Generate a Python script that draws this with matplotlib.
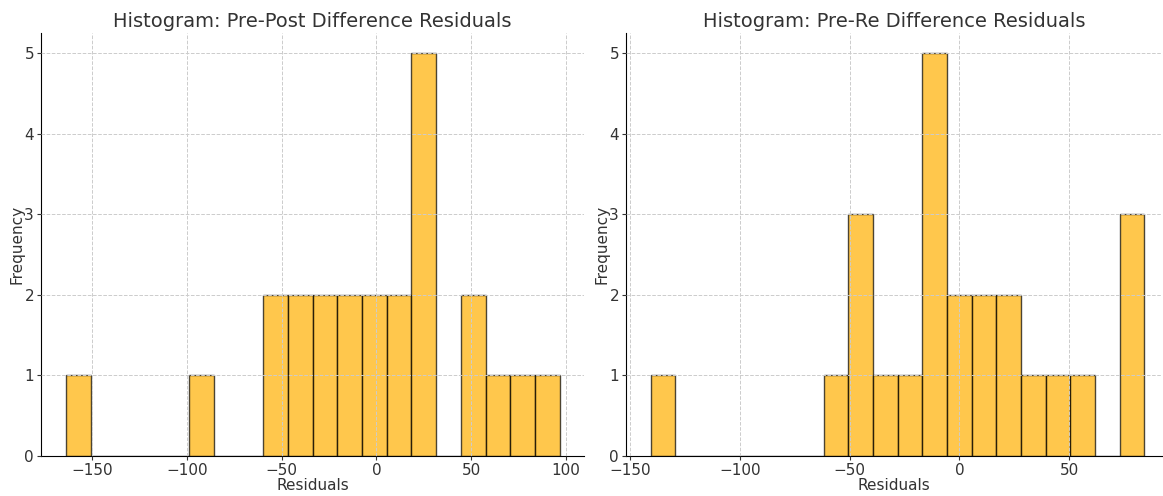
import numpy as np
import matplotlib.pyplot as plt

# residual ranges (min, max), 20 bins each
pre_post_range = (-163.7, 96.6)
pre_post_counts = [1, 0, 0, 0, 0, 1, 0, 0, 2, 2, 2, 2, 2, 2, 5, 0, 2, 1, 1, 1]

pre_re_range = (-140.6, 84.3)
pre_re_counts = [1, 0, 0, 0, 0, 0, 0, 1, 3, 1, 1, 5, 2, 2, 2, 1, 1, 1, 0, 3]

titles = ['Histogram: Pre-Post Difference Residuals',
          'Histogram: Pre-Re Difference Residuals']

fig = plt.figure(figsize=(11.63, 4.96), dpi=100)
ax1 = fig.add_axes([41/1163, 40/496, 543/1163, 423/496])
ax2 = fig.add_axes([626/1163, 40/496, 536/1163, 423/496])

for ax, rng, counts, title in [(ax1, pre_post_range, pre_post_counts, titles[0]),
                               (ax2, pre_re_range, pre_re_counts, titles[1])]:
    edges = np.linspace(rng[0], rng[1], len(counts) + 1)
    ax.hist(edges[:-1], bins=edges, weights=counts, color='#FFB000',
            alpha=0.7, edgecolor='black', linewidth=1)
    ax.set_title(title, fontsize=14, color='#333333', pad=4)
    ax.set_xlabel('Residuals', fontsize=11, color='#333333', labelpad=0)
    ax.set_ylabel('Frequency', fontsize=11, color='#333333', labelpad=0)
    ax.grid(True, linestyle='--', color='#cccccc', linewidth=0.7)
    ax.set_axisbelow(False)
    ax.spines['top'].set_visible(False)
    ax.spines['right'].set_visible(False)
    ax.tick_params(labelsize=11, colors='#333333', length=3, pad=2)
    ax.set_ylim(0, 5.25)

ax1.set_xlim(-176.9, 109.5)
ax2.set_xlim(-151.9, 92.3)

plt.savefig('out.png', dpi=100)
